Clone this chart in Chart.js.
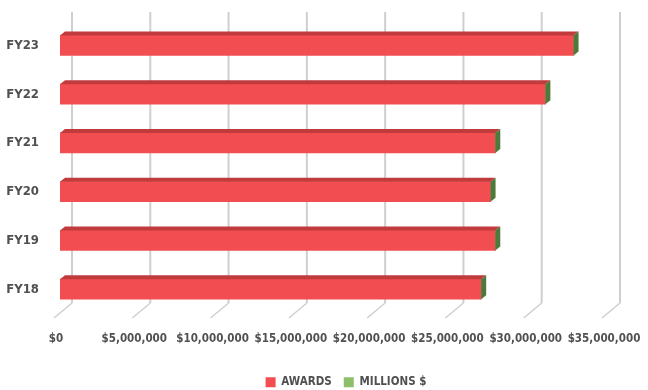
<!DOCTYPE html>
<html>
<head>
<meta charset="utf-8">
<script src="https://cdn.jsdelivr.net/npm/chart.js@4"></script>
<style>
  html, body { margin: 0; padding: 0; background: #fff; }
  #wrap { width: 648px; height: 390px; }
</style>
</head>
<body>
<div id="wrap"><canvas id="chart" width="648" height="390"></canvas></div>
<script>
// fiscal years, top to bottom
const years = ["FY23", "FY22", "FY21", "FY20", "FY19", "FY18"];
// award totals in dollars
const awards = [32800000, 31000000, 27800000, 27500000, 27800000, 26900000];
// same totals in millions (tiny on a dollar scale)
const millions = [32.8, 31.0, 27.8, 27.5, 27.8, 26.9];
const xTicks = [0, 5000000, 10000000, 15000000, 20000000, 25000000, 30000000, 35000000];

const FONT = "'DejaVu Sans Condensed', 'Liberation Sans Narrow', 'DejaVu Sans', sans-serif";

// fake 3d: back grid lines + top and side faces on bars
const depth3d = {
  id: "depth3d",
  afterLayout(chart) {
    // legend sits a bit right of and below the default spot
    const lg = chart.legend;
    lg.left += 42; lg.right += 42;
    lg.top += 8; lg.bottom += 8;
  },
  beforeDatasetsDraw(chart) {
    const ctx = chart.ctx;
    const xs = chart.scales.x;
    ctx.save();
    ctx.strokeStyle = "#cfcfcf";
    xTicks.forEach(v => {
      const x = xs.getPixelForValue(v) + 12;
      ctx.lineWidth = 2;
      ctx.beginPath();
      ctx.moveTo(x, 12);
      ctx.lineTo(x, 303);
      ctx.stroke();
      ctx.lineWidth = 1.5;
      ctx.beginPath();
      ctx.moveTo(x, 303);
      ctx.lineTo(x - 18, 318);
      ctx.stroke();
    });
    ctx.restore();
  },
  afterDatasetsDraw(chart) {
    const ctx = chart.ctx;
    const m0 = chart.getDatasetMeta(0).data;
    const m1 = chart.getDatasetMeta(1).data;
    const dx = 5, dy = 4;
    ctx.save();
    m0.forEach((bar, i) => {
      const p = bar.getProps(["x", "y", "base", "height"], true);
      const end = m1[i].getProps(["x"], true).x;
      const top = p.y - p.height / 2, bot = p.y + p.height / 2;
      ctx.fillStyle = "#c13a3c";
      ctx.beginPath();
      ctx.moveTo(p.base, top);
      ctx.lineTo(p.base + dx, top - dy);
      ctx.lineTo(end + dx, top - dy);
      ctx.lineTo(end, top);
      ctx.closePath();
      ctx.fill();
      ctx.fillStyle = "#4c7a3a";
      ctx.beginPath();
      ctx.moveTo(end, top);
      ctx.lineTo(end + dx, top - dy);
      ctx.lineTo(end + dx, bot - dy);
      ctx.lineTo(end, bot);
      ctx.closePath();
      ctx.fill();
    });
    ctx.restore();
  }
};

const tickFont = { family: FONT, size: 11.5, weight: "bold" };

new Chart(document.getElementById("chart"), {
  type: "bar",
  data: {
    labels: years,
    datasets: [
      { label: "AWARDS", data: awards, backgroundColor: "#f24e51", barThickness: 20 },
      { label: "MILLIONS $", data: millions, backgroundColor: "#8dbf6b", barThickness: 20 }
    ]
  },
  options: {
    indexAxis: "y",
    responsive: false,
    animation: false,
    layout: { padding: { top: 21, right: 40, left: 0, bottom: 0 } },
    scales: {
      x: {
        stacked: true,
        min: 0,
        max: 35000000,
        afterBuildTicks: s => { s.ticks = xTicks.map(v => ({ value: v })); },
        afterFit: s => { s.height = 43; s.paddingLeft = 0; s.paddingRight = 0; },
        grid: { display: false, drawTicks: false },
        border: { display: false },
        ticks: {
          autoSkip: false,
          minRotation: 0,
          maxRotation: 0,
          padding: 19,
          labelOffset: -4,
          color: "#505050",
          font: tickFont,
          callback: v => "$" + Number(v).toLocaleString("en-US")
        }
      },
      y: {
        stacked: true,
        afterFit: s => { s.width = 60; s.paddingTop = 0; s.paddingBottom = 0; },
        grid: { display: false, drawTicks: false },
        border: { display: false },
        ticks: {
          padding: 21,
          color: "#505050",
          font: { family: FONT, size: 13, weight: "bold" }
        }
      }
    },
    plugins: {
      legend: {
        position: "bottom",
        labels: {
          boxWidth: 10,
          boxHeight: 10,
          padding: 12,
          color: "#505050",
          font: { family: FONT, size: 11.5, weight: "bold" }
        }
      },
      tooltip: { enabled: false }
    }
  },
  plugins: [depth3d]
});
</script>
</body>
</html>
